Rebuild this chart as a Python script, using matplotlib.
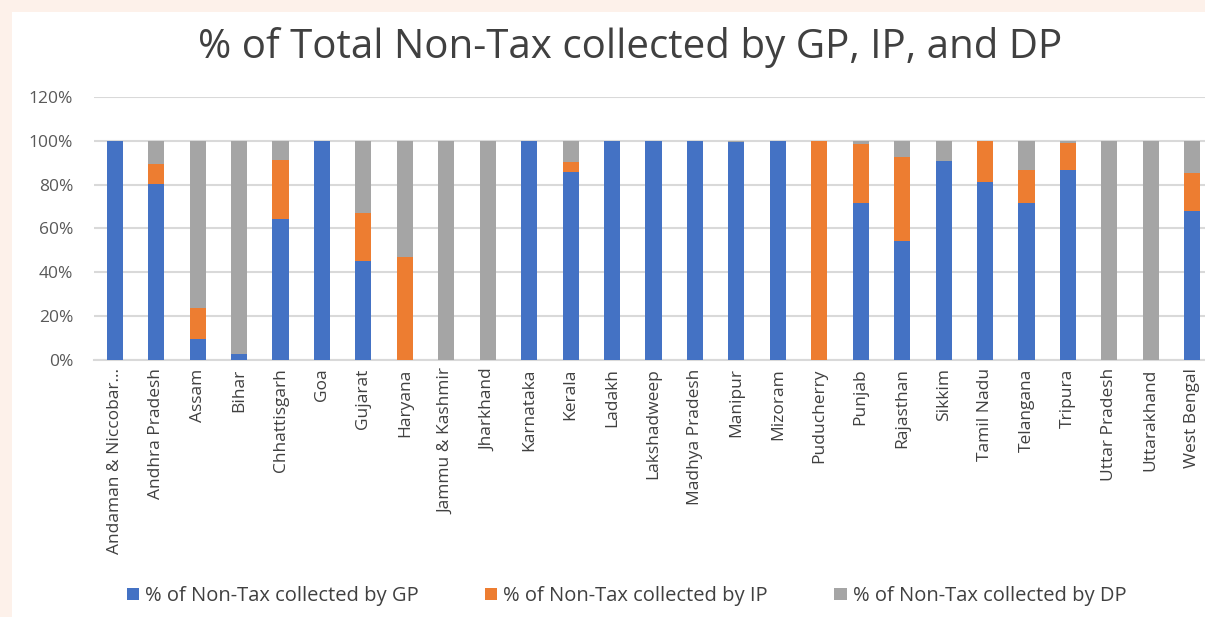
import matplotlib
matplotlib.use("Agg")
import matplotlib.pyplot as plt
from matplotlib.patches import Patch, Rectangle
from matplotlib.ticker import PercentFormatter
import numpy as np

states = ["Andaman & Niccobar...", "Andhra Pradesh", "Assam", "Bihar", "Chhattisgarh",
          "Goa", "Gujarat", "Haryana", "Jammu & Kashmir", "Jharkhand", "Karnataka",
          "Kerala", "Ladakh", "Lakshadweep", "Madhya Pradesh", "Manipur", "Mizoram",
          "Puducherry", "Punjab", "Rajasthan", "Sikkim", "Tamil Nadu", "Telangana",
          "Tripura", "Uttar Pradesh", "Uttarakhand", "West Bengal"]

gp = [100, 80.2, 9.4, 2.7, 64.5, 100, 45.2, 0, 0, 0, 100,
      86.0, 100, 100, 100, 99.5, 100, 0, 71.8, 54.3, 90.9, 81.1, 71.8,
      86.8, 0, 0, 68.2]
ip = [0, 9.1, 14.5, 0, 26.8, 0, 21.8, 47.2, 0, 0, 0,
      4.5, 0, 0, 0, 0, 0, 100, 26.7, 38.2, 0, 18.9, 14.7,
      12.1, 0, 0, 17.0]
dp = [0, 10.7, 76.1, 97.3, 8.7, 0, 33.0, 52.8, 100, 100, 0,
      9.5, 0, 0, 0, 0.5, 0, 0, 1.5, 7.5, 9.1, 0, 13.5,
      1.1, 100, 100, 14.8]

series_names = ["% of Non-Tax collected by GP", "% of Non-Tax collected by IP",
                "% of Non-Tax collected by DP"]
colors = ["#4472C4", "#ED7D31", "#A5A5A5"]
title = "% of Total Non-Tax collected by GP, IP, and DP"
yticks = [0, 20, 40, 60, 80, 100, 120]

plt.rcParams['font.family'] = ['Open Sans', 'DejaVu Sans']

W, H = 1205, 617
fig = plt.figure(figsize=(W / 100, H / 100), dpi=100)
fig.patch.set_facecolor("#FDF1EA")
fig.patches.append(Rectangle((12 / W, 0), 1, 1 - 12 / H, transform=fig.transFigure,
                             facecolor="white", edgecolor="none", zorder=-5))

left = 94 / W
right = 1213 / W
bottom = 1 - 360 / H
top = 1 - 97 / H
ax = fig.add_axes([left, bottom, right - left, top - bottom])
ax.set_facecolor("none")
ax.set_zorder(2)

x = np.arange(len(states))
gp_a, ip_a, dp_a = np.array(gp), np.array(ip), np.array(dp)
w = 0.39
ax.bar(x, gp_a, width=w, color=colors[0], zorder=3)
ax.bar(x, ip_a, width=w, bottom=gp_a, color=colors[1], zorder=3)
ax.bar(x, dp_a, width=w, bottom=gp_a + ip_a, color=colors[2], zorder=3)

ax.set_xlim(-0.5, len(states) - 0.5)
ax.set_ylim(0, 120)
ax.set_yticks(yticks)
ax.yaxis.set_major_formatter(PercentFormatter(decimals=0))
ax.grid(axis="y", color="#D9D9D9", linewidth=1.5, zorder=0)
for s in ["top", "right", "left"]:
    ax.spines[s].set_visible(False)
ax.spines["bottom"].set_color("#D9D9D9")
ax.spines["bottom"].set_linewidth(1.5)
ax.tick_params(axis="both", length=0, colors="#595959")
ax.tick_params(axis="y", labelsize=12.5, pad=15)
ax.set_xticks(x)
ax.set_xticklabels(states, rotation=90, fontsize=12.5, color="#404040")
ax.tick_params(axis="x", pad=6)

fig.text(0.523, 1 - 47 / H, title, ha="center", va="center", fontsize=29, color="#404040")

handles = [Patch(facecolor=c, edgecolor="none") for c in colors]
fig.legend(handles, series_names, loc="center", bbox_to_anchor=(0.52, 1 - 596 / H),
           ncol=3, frameon=False, fontsize=14.5, handlelength=0.6, handleheight=0.6,
           handletextpad=0.3, columnspacing=3.3, labelcolor="#404040")

fig.savefig("out.png", dpi=100)
